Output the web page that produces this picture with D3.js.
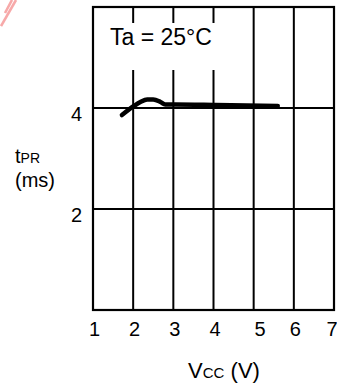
<!DOCTYPE html>
<html>
<head>
<meta charset="utf-8">
<script src="https://cdn.jsdelivr.net/npm/d3@7/dist/d3.min.js"></script>
<style>
  html, body { margin: 0; padding: 0; background: #fff; }
  svg { display: block; }
  text { font-family: "Liberation Sans", Arial, sans-serif; fill: #000; }
</style>
</head>
<body>
<svg id="chart" width="337" height="387"></svg>
<script>
// Supply voltage (V) and power-on reset time t_PR (ms) at Ta = 25 °C
const vcc = [1.72, 2.02, 2.18, 2.35, 2.5, 2.68, 2.8, 3.05, 4.05, 5.6];
const tpr = [3.86, 4.04, 4.12, 4.17, 4.17, 4.12, 4.07, 4.07, 4.06, 4.04];

const xTicks = [1, 2, 3, 4, 5, 6, 7];
const yTicks = [2, 4];
const xGrid = [2, 3, 4, 5, 6];

const svg = d3.select("#chart");
const plotL = 93, plotR = 334, plotT = 7, plotB = 310;

const x = d3.scaleLinear().domain([1, 7]).range([plotL, plotR]);
const y = d3.scaleLinear().domain([0, 6]).range([plotB, plotT]);

// faint mark in the upper-left corner
const wm = svg.append("g").attr("stroke", "#f7a9a9").attr("stroke-width", 2.6).attr("fill", "none");
wm.append("line").attr("x1", 1).attr("y1", 26).attr("x2", 16).attr("y2", 0);
wm.append("line").attr("x1", 5).attr("y1", 13).attr("x2", 12).attr("y2", 0);

// grid
const grid = svg.append("g").attr("stroke", "#000").attr("stroke-width", 2);
grid.selectAll("line.v").data(xGrid).join("line")
  .attr("class", "v")
  .attr("x1", d => x(d)).attr("x2", d => x(d))
  .attr("y1", plotT).attr("y2", plotB);
grid.selectAll("line.h").data(yTicks).join("line")
  .attr("class", "h")
  .attr("x1", plotL).attr("x2", plotR)
  .attr("y1", d => y(d)).attr("y2", d => y(d));

// condition label on a white panel
svg.append("rect")
  .attr("x", 101).attr("y", 23).attr("width", 125).attr("height", 47)
  .attr("fill", "#fff");
svg.append("text")
  .attr("x", 110).attr("y", 45)
  .style("font-size", "23px")
  .text("Ta = 25°C");

// frame
svg.append("rect")
  .attr("x", plotL).attr("y", plotT)
  .attr("width", plotR - plotL).attr("height", plotB - plotT)
  .attr("fill", "none").attr("stroke", "#000").attr("stroke-width", 2.2);

// curve
const line = d3.line()
  .x((d, i) => x(vcc[i]))
  .y((d, i) => y(tpr[i]))
  .curve(d3.curveMonotoneX);
svg.append("path")
  .datum(tpr)
  .attr("d", line)
  .attr("fill", "none")
  .attr("stroke", "#000")
  .attr("stroke-width", 4.5)
  .attr("stroke-linecap", "round")
  .attr("stroke-linejoin", "round");

// axes (labels only)
const xAxis = svg.append("g")
  .attr("transform", `translate(0,${plotB})`)
  .call(d3.axisBottom(x).tickValues(xTicks).tickFormat(d3.format("d")).tickSize(0).tickPadding(12));
xAxis.select(".domain").remove();
xAxis.attr("font-size", null).attr("font-family", null);
xAxis.selectAll("text")
  .style("font-size", "20px")
  .style("font-family", "'Liberation Sans', Arial, sans-serif")
  .attr("dx", d => d === 5 ? 6 : d === 7 ? -2.5 : 1);

const yAxis = svg.append("g")
  .attr("transform", `translate(${plotL},0)`)
  .call(d3.axisLeft(y).tickValues(yTicks).tickFormat(d3.format("d")).tickSize(0).tickPadding(11));
yAxis.select(".domain").remove();
yAxis.attr("font-size", null).attr("font-family", null);
yAxis.selectAll("text")
  .style("font-size", "20px")
  .style("font-family", "'Liberation Sans', Arial, sans-serif")
  .attr("dy", "0.64em");

// axis titles
const yt = svg.append("text").attr("x", 15).attr("y", 163).style("font-size", "20px");
yt.append("tspan").text("t");
yt.append("tspan").style("font-size", "14px").text("PR");
svg.append("text").attr("x", 15).attr("y", 187).style("font-size", "20px").text("(ms)");

const xt = svg.append("text").attr("x", 224).attr("y", 378)
  .attr("text-anchor", "middle").style("font-size", "22px");
xt.append("tspan").text("V");
xt.append("tspan").style("font-size", "15px").text("CC");
xt.append("tspan").text(" (V)");
</script>
</body>
</html>
